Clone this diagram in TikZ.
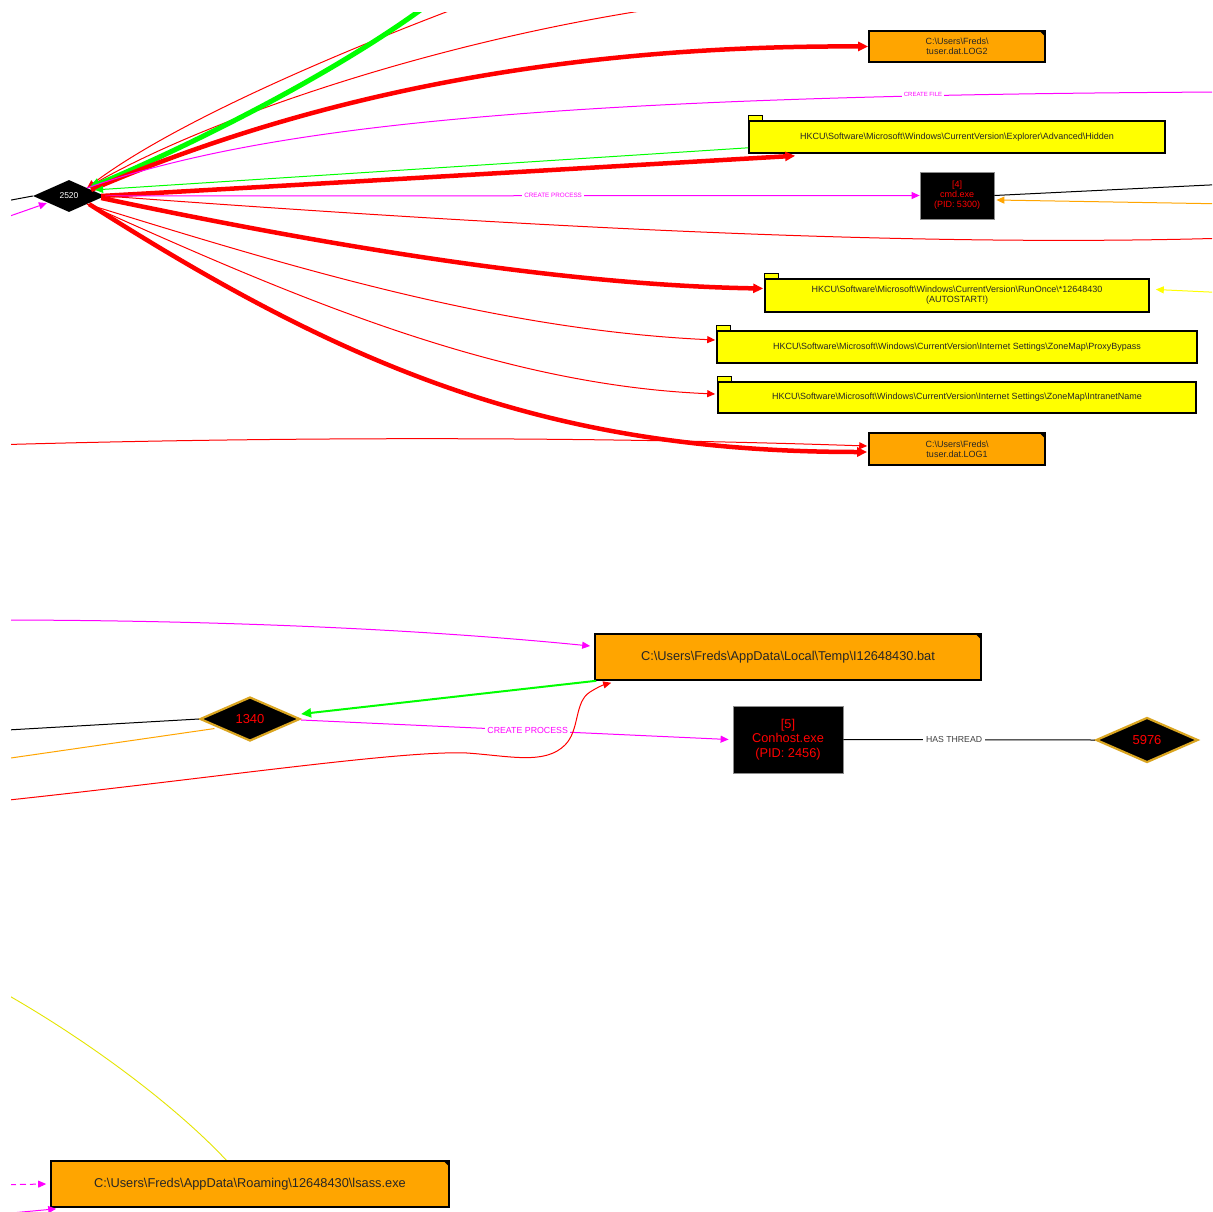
\documentclass[tikz,border=0pt]{standalone}
\usepackage{fontspec}
\setmainfont{Liberation Sans}
\usetikzlibrary{arrows.meta,shapes.geometric,calc}
\definecolor{gorange}{HTML}{FFA500}
\definecolor{gyellow}{HTML}{FFFF00}
\definecolor{ggreen}{HTML}{00FF00}
\definecolor{gred}{HTML}{FF0000}
\definecolor{gmag}{HTML}{FF00FF}
\definecolor{ggold}{HTML}{DAA520}
\tikzset{
  filebox/.style={draw=black, fill=gorange, line width=1.6pt, inner sep=0pt, align=center, text=black!85},
  regbox/.style={draw=black, fill=gyellow, line width=1.6pt, inner sep=0pt, align=center, text=black!85},
  procbox/.style={draw=black!45, fill=black, line width=0.8pt, inner sep=0pt, align=center, text=gred},
  thrd/.style={diamond, fill=black, draw=ggold, line width=2.2pt, inner sep=0pt, text=gred, font=\fontsize{13}{15}\selectfont},
  fsmall/.style={font=\fontsize{9}{10}\selectfont},
  fbig/.style={font=\fontsize{12.8}{14.5}\selectfont},
  tipthin/.style={-{Triangle[length=8pt,width=7pt]}},
  tipthick/.style={-{Triangle[length=10pt,width=9pt]}},
  ethin/.style={line width=1pt},
  ethick/.style={line width=4.5pt},
  lbl/.style={fill=white, inner sep=2pt, text=gmag},
}
\newcommand{\dogear}[1]{\fill[black] ($(#1.north east)+(-7,0)$) -- (#1.north east) -- ($(#1.north east)+(0,7)$) -- cycle;}
\newcommand{\foldertab}[1]{\draw[fill=gyellow, line width=1pt] (#1.north west) rectangle ++(14,-4.5);}
\begin{document}
\begin{tikzpicture}[x=1pt,y=-1pt]
\useasboundingbox[fill=white] (0,0) rectangle (1212,1212);
\clip (11,13) rectangle (1212,1212);

% ---------- nodes ----------
\node[diamond, fill=black, inner sep=0pt, minimum width=72pt, minimum height=32pt, text=white, font=\fontsize{8.5}{10}\selectfont] (n2520) at (69,196) {2520};

\node[filebox, fsmall, minimum width=176pt, minimum height=31pt] (log2) at (957,46.5) {C:\textbackslash Users\textbackslash Freds\textbackslash\\tuser.dat.LOG2};
\dogear{log2}
\node[regbox, fsmall, minimum width=416pt, minimum height=32pt] (hidden) at (957,137) {HKCU\textbackslash Software\textbackslash Microsoft\textbackslash Windows\textbackslash CurrentVersion\textbackslash Explorer\textbackslash Advanced\textbackslash Hidden};
\foldertab{hidden}
\node[procbox, fsmall, minimum width=74pt, minimum height=47pt] (cmd) at (957,195.5) {[4]\\cmd.exe\\(PID: 5300)};
\node[regbox, fsmall, minimum width=384pt, minimum height=33pt] (runonce) at (957,295.5) {HKCU\textbackslash Software\textbackslash Microsoft\textbackslash Windows\textbackslash CurrentVersion\textbackslash RunOnce\textbackslash *12648430\\(AUTOSTART!)};
\foldertab{runonce}
\node[regbox, fsmall, minimum width=480pt, minimum height=32pt] (proxy) at (957,347) {HKCU\textbackslash Software\textbackslash Microsoft\textbackslash Windows\textbackslash CurrentVersion\textbackslash Internet Settings\textbackslash ZoneMap\textbackslash ProxyBypass};
\foldertab{proxy}
\node[regbox, fsmall, minimum width=478pt, minimum height=31pt] (intranet) at (957,397.5) {HKCU\textbackslash Software\textbackslash Microsoft\textbackslash Windows\textbackslash CurrentVersion\textbackslash Internet Settings\textbackslash ZoneMap\textbackslash IntranetName};
\foldertab{intranet}
\node[filebox, fsmall, minimum width=176pt, minimum height=32pt] (log1) at (957,449) {C:\textbackslash Users\textbackslash Freds\textbackslash\\tuser.dat.LOG1};
\dogear{log1}

\node[filebox, fbig, minimum width=386pt, minimum height=46pt] (bat) at (788,657) {C:\textbackslash Users\textbackslash Freds\textbackslash AppData\textbackslash Local\textbackslash Temp\textbackslash I12648430.bat};
\dogear{bat}
\node[thrd, minimum width=100pt, minimum height=44pt] (n1340) at (250,719) {1340};
\node[procbox, fbig, minimum width=110pt, minimum height=67pt] (conhost) at (788,739.5) {[5]\\Conhost.exe\\(PID: 2456)};
\node[thrd, minimum width=102pt, minimum height=45pt] (n5976) at (1147,740) {5976};

% yellow line under lsass box
\coordinate (ylw) at (-10,985);
\coordinate (lsasstop) at (228,1162);
\draw[gyellow!90!black, line width=0.9pt] (ylw) .. controls (90,1040) and (180,1110) .. (lsasstop);
\node[filebox, fbig, minimum width=398pt, minimum height=46pt] (lsass) at (250,1184) {C:\textbackslash Users\textbackslash Freds\textbackslash AppData\textbackslash Roaming\textbackslash 12648430\textbackslash lsass.exe};
\dogear{lsass}

% ---------- outside coordinates ----------
\coordinate (gtop) at (434,0);
\coordinate (rtopA) at (478,0);
\coordinate (rtopB) at (720,0);
\coordinate (cfend) at (1230,92);
\coordinate (rright) at (1230,238);
\coordinate (lblack) at (-10,204);
\coordinate (lmag) at (-10,223);
\coordinate (lred) at (-10,445);
\coordinate (cmdblack) at (1230,184);
\coordinate (cmdorange) at (1230,204);
\coordinate (ryellow) at (1230,293);
\coordinate (bmag) at (-10,620);
\coordinate (bred) at (-10,802);
\coordinate (bblack) at (-10,731);
\coordinate (borange) at (-10,761);
\coordinate (ldash) at (-10,1185);
\coordinate (lbot) at (-10,1215);

% ---------- edges around 2520 ----------
\draw[gred, ethin, tipthin] (rtopA) .. controls (330,55) and (170,125) .. (n2520.north east);
\draw[gred, ethin] (rtopB) .. controls (460,30) and (200,120) .. (n2520.north east);
\draw[ggreen, line width=5pt, -{Triangle[length=11pt,width=11pt]}] (gtop) .. controls (335,75) and (180,150) .. ($(n2520.north east)+(2,0)$);
\draw[gred, ethick, tipthick] ($(n2520.north east)+(4,2)$) .. controls (300,100) and (550,45) .. (log2.west);
\draw[gmag, ethin] (n2520.north east) .. controls (250,132) and (500,95) .. (cfend);
\node[lbl, font=\fontsize{6}{7}\selectfont] at (923,94) {CREATE FILE};
\draw[ggreen, ethin, tipthin] ($(hidden.south west)+(0,-6)$) -- ($(n2520.north east)+(8,2)$);
\draw[gred, ethick, tipthick] ($(n2520.east)+(-4,0)$) .. controls (300,185) and (550,170) .. ($(hidden.south west)+(47,2)$);
\draw[gmag, ethin, tipthin] (n2520.east) -- node[lbl, pos=0.55, font=\fontsize{6.3}{7}\selectfont] {CREATE PROCESS} (cmd.west);
\draw[gred, ethin] (n2520.east) .. controls (500,225) and (900,248) .. (rright);
\draw[gred, ethick, tipthick] ($(n2520.east)+(-4,2)$) .. controls (300,240) and (550,285) .. ($(runonce.west)+(-1,-7)$);
\draw[gred, ethin, tipthin] (n2520.south east) .. controls (300,270) and (500,330) .. ($(proxy.west)+(-1,-7)$);
\draw[gred, ethin, tipthin] (n2520.south east) .. controls (300,300) and (500,385) .. ($(intranet.west)+(-2,-3.5)$);
\draw[gred, ethick, tipthick] ($(n2520.south east)+(2,0)$) .. controls (350,370) and (550,452) .. ($(log1.west)+(-1,3)$);
\draw[gred, ethin, tipthin] (lred) .. controls (300,436) and (600,437) .. ($(log1.west)+(-1,-3)$);
\draw[black, ethin] (lblack) -- (n2520.west);
\draw[gmag, ethin, tipthin] (lmag) -- ($(n2520.south west)+(-4,-1)$);

% ---------- cmd / runonce right side ----------
\draw[black, ethin] (cmdblack) -- (cmd.east);
\draw[gorange, ethin, tipthin] (cmdorange) -- ($(cmd.east)+(2,4.5)$);
\draw[gyellow, ethin, tipthin] (ryellow) -- ($(runonce.east)+(6,-6)$);

% ---------- bottom group ----------
\draw[gmag, ethin, tipthin] (bmag) .. controls (250,620) and (450,632) .. ($(bat.west)+(-4,-11)$);
\draw[ggreen, line width=2pt, -{Triangle[length=10pt,width=9pt]}] ($(bat.south west)+(2,0)$) -- ($(n1340.east)+(0,-5)$);
\draw[gmag, ethin, tipthin] ($(n1340.east)+(0,1)$) -- node[lbl, pos=0.53, font=\fontsize{8.8}{10}\selectfont] {CREATE PROCESS} ($(conhost.west)+(-4,0)$);
\draw[gred, ethin, tipthin] (bred) .. controls (200,780) and (400,750) .. (467,753)
   .. controls (510,756) and (545,765) .. (565,745)
   .. controls (580,730) and (574,702) .. (590,692)
   .. controls (598,687) and (603,685) .. ($(bat.south west)+(17,2)$);
\draw[black, ethin] (bblack) -- (n1340.west);
\draw[gorange, ethin] (borange) -- ($(n1340.south west)+(-10,-2)$);
\draw[black, ethin] (conhost.east) -- node[fill=white, inner sep=3pt, pos=0.44, text=black!75, font=\fontsize{8.7}{10}\selectfont] {HAS THREAD} (n5976.west);

% ---------- lsass ----------
\draw[gmag, ethin, dashed, dash pattern=on 6pt off 4pt, tipthin] (ldash) -- ($(lsass.west)+(-4,0)$);
\draw[gmag, ethin, tipthin] (lbot) -- ($(lsass.south west)+(6,1)$);
\end{tikzpicture}
\end{document}
